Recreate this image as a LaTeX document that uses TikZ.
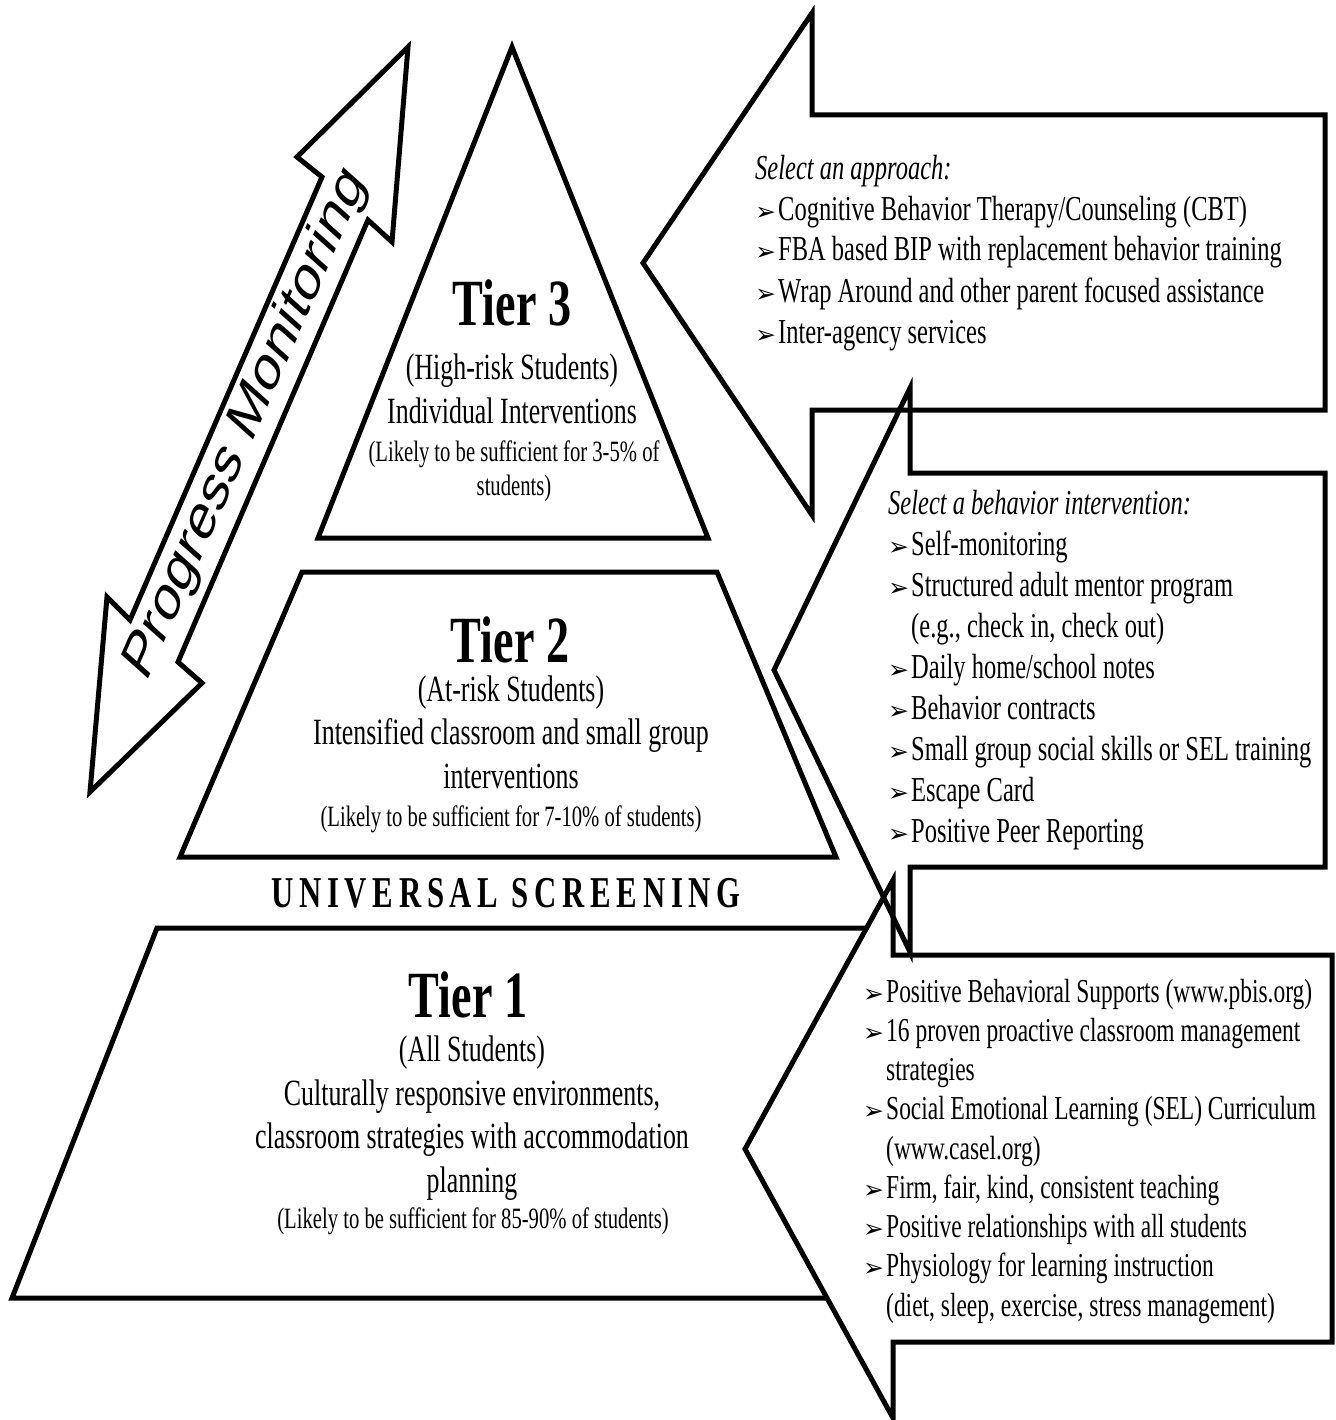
\documentclass[tikz,border=0pt]{standalone}
\usepackage{fontspec}
\setmainfont{Liberation Serif}[FakeStretch=0.70]
\newfontfamily\pmfont{Liberation Sans}
\newfontfamily\bulfont{DejaVu Sans}
\newfontfamily\scrfont{Liberation Serif}[FakeStretch=0.70,LetterSpace=13]
\newcommand{\bul}{\makebox[23pt][l]{\bulfont\fontsize{25}{25}\selectfont ➢}}
\newcommand{\cont}{\hspace*{23pt}}

\tikzset{
  outline/.style={line width=5pt, line join=miter},
  tiertitle/.style={font=\fontsize{66}{70}\selectfont\bfseries, anchor=base},
  tiertext/.style={font=\fontsize{37}{43.5}\selectfont, align=center, anchor=base},
  tiernote/.style={font=\fontsize{29.5}{34}\selectfont, align=center, anchor=base},
  itemlist/.style={align=left, anchor=base west, inner sep=0pt},
}

\begin{document}
\begin{tikzpicture}[x=1pt, y=-1pt]
\useasboundingbox (0,0) rectangle (1335,1420);
% la pyramide a trois niveaux (base des noeuds = derniere ligne)
\draw[outline] (512,47) -- (708,538) -- (318,538) -- cycle;
\draw[outline] (302,572) -- (717,572) -- (836,857) -- (180,857) -- cycle;
\draw[outline] (157,928) -- (870,928) -- (832,1298) -- (12,1298) -- cycle;
\node[tiertitle] (tthree) at (512,325) {Tier 3};
\node[tiertext] (tthreetext) at (512,423) {(High-risk Students)\\Individual Interventions};
\node[tiernote] (tthreenote) at (514,495) {(Likely to be sufficient for 3-5\% of\\students)};
\node[tiertitle] (ttwo) at (510,662) {Tier 2};
\node[tiertext] (ttwotext) at (511,788) {(At-risk Students)\\Intensified classroom and small group\\interventions};
\node[tiernote] (ttwonote) at (511,826) {(Likely to be sufficient for 7-10\% of students)};
\node[font=\scrfont\bfseries\fontsize{44}{44}\selectfont, anchor=base] (screen) at (506,907) {UNIVERSAL SCREENING};
\node[tiertitle] (tone) at (468,1017) {Tier 1};
\node[tiertext] (tonetext) at (472,1192) {(All Students)\\Culturally responsive environments,\\classroom strategies with accommodation\\planning};
\node[tiernote] (tonenote) at (473,1228) {(Likely to be sufficient for 85-90\% of students)};
% double fleche du suivi
\draw[outline] (90,792) -- (107,597) -- (130,620) -- (322,177) -- (297,157) -- (408,47)
  -- (392,242) -- (368,220) -- (178,662) -- (202,683) -- cycle;
\node[font=\pmfont\fontsize{66}{66}\selectfont, xscale=0.7, rotate=58] (pm) at (246,424) {Progress Monitoring};
% les trois grandes fleches a droite
\draw[outline, fill=white] (745,1149) -- (893,880) -- (893,955) -- (1332,955) -- (1332,1342)
  -- (893,1342) -- (893,1418) -- cycle;
\draw[outline] (774,670) -- (910,388) -- (910,473) -- (1325,473) -- (1325,867)
  -- (910,867) -- (910,952) -- cycle;
\draw[outline] (643,263) -- (812,13) -- (812,115) -- (1325,115) -- (1325,410)
  -- (812,410) -- (812,515) -- cycle;
\node[itemlist, font=\fontsize{35}{41}\selectfont] (approach) at (755,343) {{\itshape Select an approach:}\\
  \bul Cognitive Behavior Therapy/Counseling (CBT)\\
  \bul FBA based BIP with replacement behavior training\\
  \bul Wrap Around and other parent focused assistance\\
  \bul Inter-agency services};
\node[itemlist, font=\fontsize{35}{40.9}\selectfont] (intervention) at (888,842) {{\itshape Select a behavior intervention:}\\
  \bul Self-monitoring\\
  \bul Structured adult mentor program\\
  \cont (e.g., check in, check out)\\
  \bul Daily home/school notes\\
  \bul Behavior contracts\\
  \bul Small group social skills or SEL training\\
  \bul Escape Card\\
  \bul Positive Peer Reporting};
\node[itemlist, font=\fontsize{33.5}{39.25}\selectfont] (universal) at (863,1316) {\bul Positive Behavioral Supports (www.pbis.org)\\
  \bul 16 proven proactive classroom management\\
  \cont strategies\\
  \bul Social Emotional Learning (SEL) Curriculum\\
  \cont (www.casel.org)\\
  \bul Firm, fair, kind, consistent teaching\\
  \bul Positive relationships with all students\\
  \bul Physiology for learning instruction\\
  \cont (diet, sleep, exercise, stress management)};
\end{tikzpicture}
\end{document}
